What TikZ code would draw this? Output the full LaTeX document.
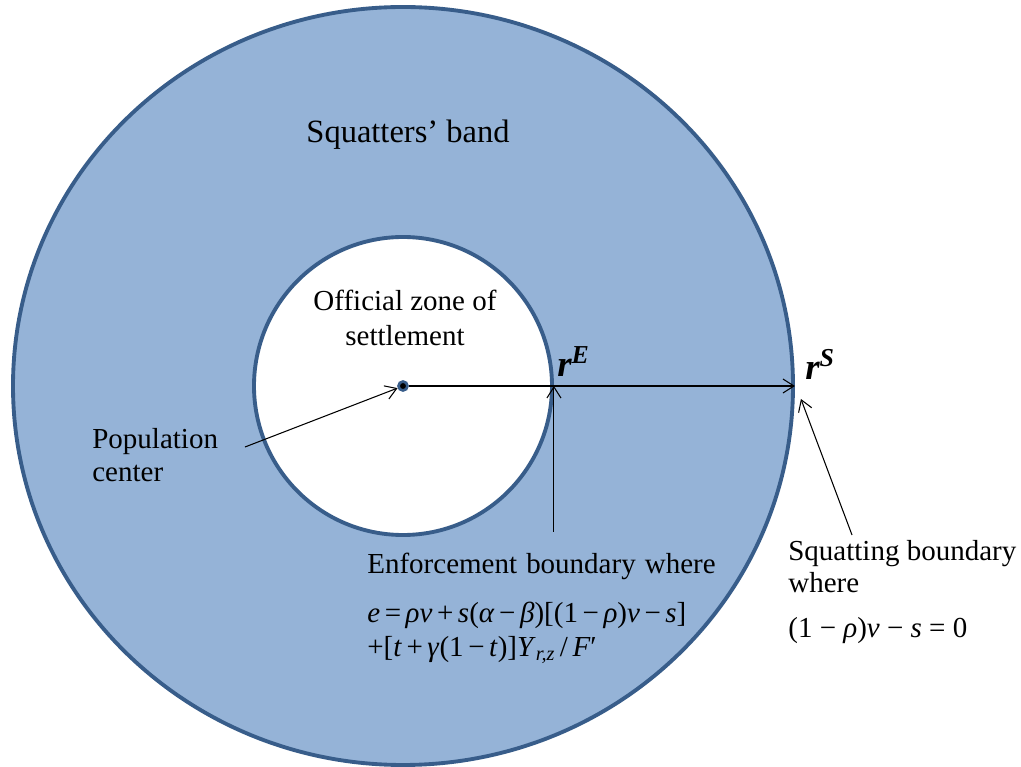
\documentclass[tikz,border=0pt]{standalone}
\usepackage{fontspec}
\setmainfont{Liberation Serif}
\usetikzlibrary{positioning, arrows.meta, shapes.geometric}
\definecolor{bandfill}{RGB}{149,179,215}
\definecolor{bandline}{RGB}{56,93,138}
\newcommand{\mi}[1]{\textit{#1}}

\begin{document}
\begin{tikzpicture}[font=\fontsize{16.5}{18.5}\selectfont, >={Straight Barb[length=2.2mm,width=2.8mm]},
  ring/.style={draw=bandline, line width=2.2pt, inner sep=0pt},
  pointer/.style={->, line width=0.6pt},
  note/.style={align=left, anchor=north west, inner sep=0pt},
  radius label/.style={inner sep=0pt, anchor=south west, font=\fontsize{21}{22}\selectfont\bfseries\itshape}]
  \useasboundingbox (-8.06,-7.62) rectangle (12.36,7.72);
  \node[ring, ellipse, fill=bandfill, minimum width=15.6cm, minimum height=15.16cm] (band) at (0,0) {};
  \node[ring, circle, fill=white, minimum size=5.96cm] (zone) at (0,0) {};
  \node[circle, fill=black, draw=bandline, line width=1.5pt, minimum size=0.18cm, inner sep=0pt] (pc) at (0,0) {};
  \node (bandtxt) at (0.1,5.02) {\fontsize{18.5}{20}\selectfont Squatters’ band};
  \node[align=center] (zonetxt) at (0.04,1.36) {Official zone of\\[1pt] settlement};
  \node[note, anchor=west] (poptxt) at (-6.22,-1.38) {Population\\ center};
  \node[radius label] (rE) at (3.08,0.18) {r\textsuperscript{E}};
  \node[radius label] (rS) at (8.04,0.12) {r\textsuperscript{S}};
  \node[note] (enftxt) at (-0.72,-3.34) {%
    Enforcement\hspace{5.2pt}boundary\hspace{5.2pt}where\\[9pt]
    {\spaceskip=2.6pt \mi{e} = \mi{ρv} + \mi{s}(\mi{α} − \mi{β})[(1 − \mi{ρ})\mi{v} − \mi{s}]}\\[1pt]
    {\spaceskip=2.6pt +[\mi{t} + \mi{γ}(1 − \mi{t})]\mi{Y}\textsubscript{\mi{r,z}}\ / \mi{F}′}};
  \node[note] (sqtxt) at (7.7,-3.08) {%
    Squatting boundary\\
    where\\[7pt]
    (1 − \mi{ρ})\mi{v} − \mi{s} = 0};
  \coordinate (popTail) at (-3.16,-1.22);
  \coordinate (enfTail) at ([yshift=-2.92cm]zone.east);
  \coordinate (sqTail) at (8.98,-2.98);
  \draw[pointer] (pc) -- (band.east);
  \draw[pointer] (popTail) -- (pc);
  \draw[pointer] (enfTail) -- (enfTail |- zone.east);
  \draw[pointer] (sqTail) -- ([shift={(0.12,-0.26)}]band.east);
\end{tikzpicture}
\end{document}
